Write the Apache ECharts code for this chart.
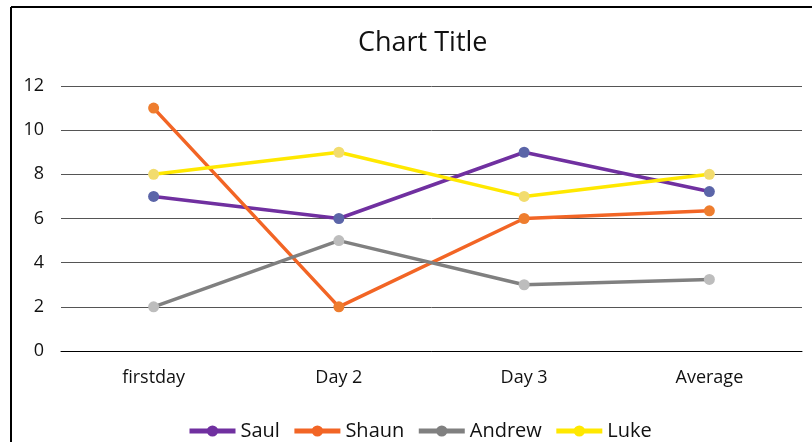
<!DOCTYPE html>
<html>
<head>
<meta charset="utf-8">
<script src="https://cdn.jsdelivr.net/npm/echarts@6/dist/echarts.min.js"></script>
<style>
html,body{margin:0;padding:0;background:#fff;}
#chart{width:812px;height:442px;}
</style>
</head>
<body>
<div id="chart"></div>
<script>
const categories = ['firstday', 'Day 2', 'Day 3', 'Average'];
const saul = [7, 6, 9, 7.22];
const shaun = [11, 2, 6, 6.35];
const andrew = [2, 5, 3, 3.24];
const luke = [8, 9, 7, 8];
const yTicks = [0, 2, 4, 6, 8, 10, 12];

const seriesDefs = [
  { name: 'Saul', data: saul, line: '#7030A0', marker: '#5B65A8' },
  { name: 'Shaun', data: shaun, line: '#F26525', marker: '#EE7D2E' },
  { name: 'Andrew', data: andrew, line: '#808080', marker: '#BDBDBD' },
  { name: 'Luke', data: luke, line: '#FFE800', marker: '#F2DC6E' }
];

const font = '"Open Sans", "Noto Sans", sans-serif';
const chart = echarts.init(document.getElementById('chart'));
chart.setOption({
  animation: false,
  backgroundColor: '#fff',
  title: {
    text: 'Chart Title',
    left: 353,
    top: 25,
    textStyle: { fontFamily: font, fontSize: 27, fontWeight: 'normal', color: '#111' }
  },
  legend: {
    bottom: -4,
    left: 182,
    itemWidth: 46,
    itemHeight: 14,
    itemGap: 12,
    lineStyle: { width: 5 },
    textStyle: { fontFamily: font, fontSize: 20, color: '#111' },
    data: seriesDefs.map(s => s.name)
  },
  grid: { left: 61, right: 10, top: 86, bottom: 91 },
  xAxis: {
    type: 'category',
    data: categories,
    boundaryGap: true,
    axisLine: { show: true, lineStyle: { color: '#000', width: 1 } },
    axisTick: { show: false },
    axisLabel: { fontFamily: font, fontSize: 18, color: '#111', margin: 18 }
  },
  yAxis: {
    type: 'value',
    min: yTicks[0],
    max: yTicks[yTicks.length - 1],
    interval: 2,
    axisLine: { show: false },
    axisTick: { show: false },
    axisLabel: { fontFamily: font, fontSize: 18, color: '#111', margin: 17 },
    splitLine: { lineStyle: { color: '#555', width: 1 } }
  },
  graphic: [
    { type: 'line', shape: { x1: 11, y1: 7, x2: 812, y2: 7 }, style: { stroke: '#000', lineWidth: 2 } },
    { type: 'line', shape: { x1: 11, y1: 7, x2: 11, y2: 442 }, style: { stroke: '#000', lineWidth: 2 } }
  ],
  series: seriesDefs.map(s => ({
    name: s.name,
    type: 'line',
    data: s.data.map(v => ({ value: v, itemStyle: { color: s.marker } })),
    symbol: 'circle',
    symbolSize: 11,
    showSymbol: true,
    lineStyle: { color: s.line, width: 3.5 },
    itemStyle: { color: s.line }
  }))
});
</script>
</body>
</html>
